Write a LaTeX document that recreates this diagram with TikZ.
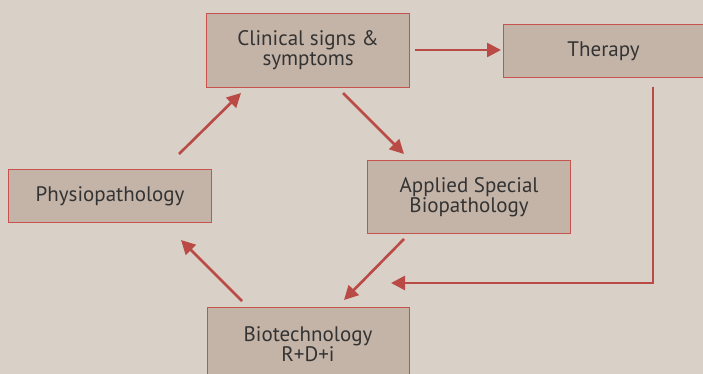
\documentclass[tikz,border=0pt]{standalone}
\usepackage{fontspec}
\setmainfont{PT Sans}
\usetikzlibrary{arrows.meta}
\definecolor{bg}{HTML}{D9D0C7}
\definecolor{boxfill}{HTML}{C4B4A8}
\definecolor{boxline}{HTML}{C8524E}
\definecolor{arr}{HTML}{B94A45}
\definecolor{txt}{HTML}{333333}
\tikzset{
  stepbox/.style={draw=boxline, line width=1.2pt, fill=boxfill, inner sep=0pt, anchor=north west,
    text=txt, font=\fontsize{21}{20}\selectfont, align=center},
  conn/.style={draw=arr, line width=2.6pt, -{Triangle[length=14pt,width=14pt]}}
}
\begin{document}
\begin{tikzpicture}[x=1pt,y=-1pt]
\fill[bg] (0,0) rectangle (703,374);
\useasboundingbox (0,0) rectangle (703,374);
\begin{scope}
\clip (0,0) rectangle (703,374);
\node[stepbox, minimum width=203pt, minimum height=74pt] (clin) at (206,13) {Clinical signs \&\\symptoms};
\node[stepbox, minimum width=210pt, minimum height=53pt] (ther) at (503,24) {\hspace*{-10pt}Therapy};
\node[stepbox, minimum width=203pt, minimum height=53pt] (phys) at (8,169) {Physiopathology};
\node[stepbox, minimum width=203pt, minimum height=73pt] (appl) at (367,160) {Applied Special\\Biopathology};
\node[stepbox, minimum width=202pt, minimum height=80pt] (bio) at (207,307) {};
\node[text=txt, font=\fontsize{21}{20}\selectfont, align=center, anchor=north, inner sep=0pt] (biot) at (308,326) {Biotechnology\\R+D+i};
\end{scope}
\coordinate (c1s) at (415,50);
\coordinate (c1e) at (501,50);
\draw[conn] (c1s) -- (c1e);
\coordinate (t1) at (653,87);
\coordinate (t2) at (653,283);
\coordinate (t3) at (391,283);
\draw[conn] (t1) -- (t2) -- (t3);
\coordinate (a1) at (343,93);
\coordinate (a2) at (404,154);
\draw[conn] (a1) -- (a2);
\coordinate (b1) at (404,239);
\coordinate (b2) at (344,300);
\draw[conn] (b1) -- (b2);
\coordinate (p1) at (242,301);
\coordinate (p2) at (181,240);
\draw[conn] (p1) -- (p2);
\coordinate (q1) at (179,154);
\coordinate (q2) at (241,93);
\draw[conn] (q1) -- (q2);
\end{tikzpicture}
\end{document}
